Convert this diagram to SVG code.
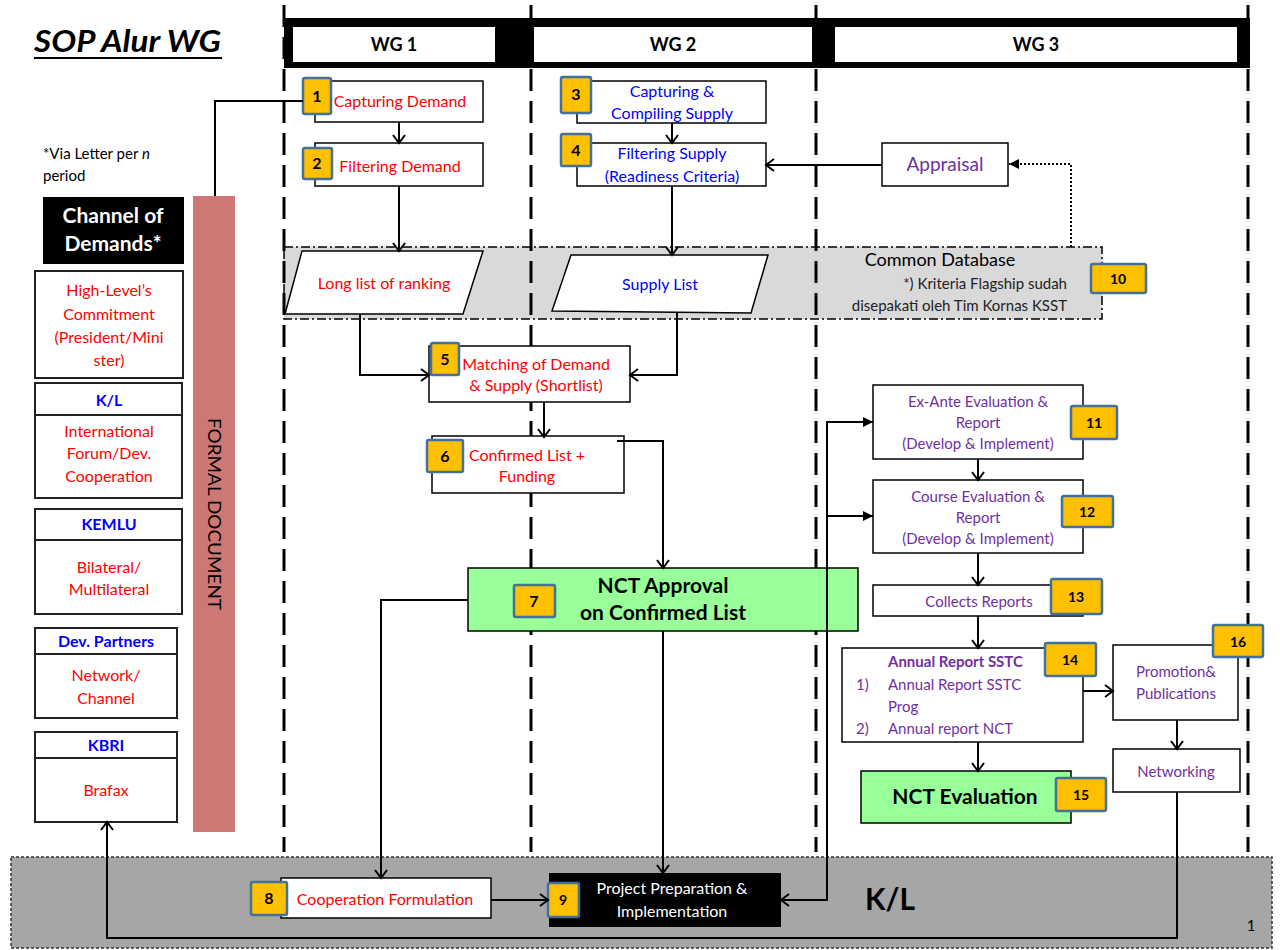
<svg xmlns="http://www.w3.org/2000/svg" width="1280" height="950" viewBox="0 0 1280 950">
<defs>
<style>
text{font-family:Lato,"Open Sans","Liberation Sans",sans-serif}
.box{fill:#fff;stroke:#000;stroke-width:1.5}
.lbox{fill:#fff;stroke:#222;stroke-width:2}
.badge{fill:#FFC000;stroke:#41719C;stroke-width:2.5}
.bn{font-size:16px;font-weight:bold;fill:#000;text-anchor:middle}
.bn2{font-size:14px;font-weight:bold;fill:#000;text-anchor:middle}
.red{fill:#FF0000;font-size:16px;text-anchor:middle}
.blue{fill:#0000FF;font-size:16px;text-anchor:middle}
.pur{fill:#7030A0;font-size:15px;text-anchor:middle}
.bl{fill:#0000FF;font-size:16px;font-weight:bold;text-anchor:middle}
.lane{stroke:#000;stroke-width:3;stroke-dasharray:22 10;fill:none}
.c{stroke:#000;stroke-width:2;fill:none}
.green{fill:#99FF99;stroke:#000;stroke-width:1.5}
</style>
<marker id="open" markerUnits="userSpaceOnUse" markerWidth="16" markerHeight="16" refX="11" refY="8" orient="auto">
<path d="M3,2 L11,8 L3,14" fill="none" stroke="#000" stroke-width="2"/>
</marker>
<marker id="fill" markerUnits="userSpaceOnUse" markerWidth="12" markerHeight="12" refX="10" refY="6" orient="auto">
<path d="M0,1 L10,6 L0,11 z" fill="#000"/>
</marker>
</defs>
<rect width="1280" height="950" fill="#fff"/>

<!-- background bands -->
<g id="common-database-band">
<rect x="284" y="247" width="818" height="72" fill="#D9D9D9" stroke="#000" stroke-width="1.5" stroke-dasharray="9 3 2 3"/>
</g>
<g id="kl-band">
<rect x="11" y="857" width="1261" height="91" fill="#A6A6A6" stroke="#333" stroke-width="1.5" stroke-dasharray="3 2"/>
<text x="890" y="910" font-size="30" font-weight="bold" text-anchor="middle" fill="#000">K/L</text>
<text x="1251" y="931" font-size="15" text-anchor="middle" fill="#000">1</text>
</g>

<!-- swimlanes -->
<g id="lanes">
<line class="lane" x1="284" y1="5" x2="284" y2="852"/>
<line class="lane" x1="531" y1="5" x2="531" y2="852"/>
<line class="lane" x1="816" y1="5" x2="816" y2="852"/>
<line class="lane" x1="1248" y1="5" x2="1248" y2="852"/>
</g>

<g id="header">
<rect x="284" y="18" width="966" height="50" fill="#000"/>
<rect x="293" y="27" width="202" height="35" fill="#fff"/>
<rect x="534" y="27" width="278" height="35" fill="#fff"/>
<rect x="835" y="27" width="402" height="35" fill="#fff"/>
<text x="394" y="51" font-size="18" font-weight="bold" text-anchor="middle">WG 1</text>
<text x="673" y="51" font-size="18" font-weight="bold" text-anchor="middle">WG 2</text>
<text x="1036" y="51" font-size="18" font-weight="bold" text-anchor="middle">WG 3</text>
</g>

<g id="title">
<text x="34" y="52" font-size="30" font-weight="bold" font-style="italic" textLength="187" lengthAdjust="spacingAndGlyphs">SOP Alur WG</text>
<line x1="34" y1="58" x2="222" y2="58" stroke="#000" stroke-width="2"/>
<text x="43" y="159" font-size="15">*Via Letter per <tspan font-style="italic">n</tspan></text>
<text x="43" y="181" font-size="15">period</text>
</g>

<!-- left column -->
<g id="channel-of-demands">
<rect x="43" y="197" width="141" height="67" fill="#000"/>
<text x="113" y="223" font-size="21" font-weight="bold" fill="#fff" text-anchor="middle">Channel of</text>
<text x="113" y="251" font-size="21" font-weight="bold" fill="#fff" text-anchor="middle">Demands*</text>
</g>
<g id="high-level">
<rect class="lbox" x="35" y="271" width="148" height="107"/>
<text class="red" x="109" y="296">High-Level’s</text>
<text class="red" x="109" y="320">Commitment</text>
<text class="red" x="109" y="343">(President/Mini</text>
<text class="red" x="109" y="366">ster)</text>
</g>
<g id="kl-channel">
<rect class="lbox" x="35" y="383" width="147" height="115"/>
<line x1="35" y1="415" x2="182" y2="415" stroke="#222" stroke-width="2"/>
<text class="bl" x="109" y="406">K/L</text>
<text class="red" x="109" y="437">International</text>
<text class="red" x="109" y="459">Forum/Dev.</text>
<text class="red" x="109" y="482">Cooperation</text>
</g>
<g id="kemlu">
<rect class="lbox" x="35" y="509" width="147" height="105"/>
<line x1="35" y1="540" x2="182" y2="540" stroke="#222" stroke-width="2"/>
<text class="bl" x="109" y="530">KEMLU</text>
<text class="red" x="109" y="573">Bilateral/</text>
<text class="red" x="109" y="595">Multilateral</text>
</g>
<g id="dev-partners">
<rect class="lbox" x="35" y="628" width="142" height="90"/>
<line x1="35" y1="654" x2="177" y2="654" stroke="#222" stroke-width="2"/>
<text class="bl" x="106" y="647">Dev. Partners</text>
<text class="red" x="106" y="681">Network/</text>
<text class="red" x="106" y="704">Channel</text>
</g>
<g id="kbri">
<rect class="lbox" x="35" y="732" width="142" height="90"/>
<line x1="35" y1="758" x2="177" y2="758" stroke="#222" stroke-width="2"/>
<text class="bl" x="106" y="751">KBRI</text>
<text class="red" x="106" y="796">Brafax</text>
</g>
<g id="formal-document">
<rect x="193" y="196" width="42" height="636" fill="#CD7874"/>
<text x="0" y="0" font-size="18" fill="#000" text-anchor="middle" transform="translate(208,514) rotate(90)" textLength="192" lengthAdjust="spacingAndGlyphs">FORMAL DOCUMENT</text>
</g>

<!-- WG1 / WG2 nodes -->
<g id="n1">
<rect class="box" x="315" y="81" width="168" height="41"/>
<text class="red" x="400" y="107">Capturing Demand</text>
<rect class="badge" x="303" y="78" width="28" height="36" rx="2"/>
<text class="bn" x="317" y="102">1</text>
</g>
<g id="n2">
<rect class="box" x="315" y="143" width="168" height="43"/>
<text class="red" x="400" y="172">Filtering Demand</text>
<rect class="badge" x="303" y="148" width="29" height="31" rx="2"/>
<text class="bn" x="317" y="169">2</text>
</g>
<g id="n3">
<rect class="box" x="577" y="81" width="189" height="42"/>
<text class="blue" x="672" y="97">Capturing &amp;</text>
<text class="blue" x="672" y="119">Compiling Supply</text>
<rect class="badge" x="561" y="77" width="30" height="36" rx="2"/>
<text class="bn" x="576" y="100">3</text>
</g>
<g id="n4">
<rect class="box" x="577" y="143" width="189" height="43"/>
<text class="blue" x="672" y="159">Filtering Supply</text>
<text class="blue" x="672" y="182">(Readiness Criteria)</text>
<rect class="badge" x="561" y="134" width="30" height="32" rx="2"/>
<text class="bn" x="576" y="156">4</text>
</g>
<g id="appraisal">
<rect class="box" x="882" y="143" width="126" height="43"/>
<text x="945" y="171" font-size="19" fill="#7030A0" text-anchor="middle">Appraisal</text>
</g>
<g id="n10-common-database">
<text x="940" y="266" font-size="18" fill="#000" text-anchor="middle">Common Database</text>
<text x="1067" y="289" font-size="15" fill="#222" text-anchor="end">*) Kriteria Flagship sudah</text>
<text x="1067" y="311" font-size="15" fill="#222" text-anchor="end">disepakati oleh Tim Kornas KSST</text>
<rect class="badge" x="1091" y="264" width="55" height="29" rx="2"/>
<text class="bn2" x="1118" y="284">10</text>
</g>
<g id="long-list">
<polygon points="302,251 483,251 463,314 285,314" fill="#fff" stroke="#000" stroke-width="1.5"/>
<text class="red" x="384" y="289">Long list of ranking</text>
</g>
<g id="supply-list">
<polygon points="571,255 768,255 751,313 552,311" fill="#fff" stroke="#000" stroke-width="1.5"/>
<text class="blue" x="660" y="290">Supply List</text>
</g>
<g id="n5">
<rect class="box" x="429" y="346" width="201" height="56"/>
<text class="red" x="536" y="370">Matching of Demand</text>
<text class="red" x="536" y="391">&amp; Supply (Shortlist)</text>
<rect class="badge" x="431" y="343" width="28" height="32" rx="2"/>
<text class="bn" x="445" y="365">5</text>
</g>
<g id="n6">
<rect class="box" x="432" y="436" width="192" height="57"/>
<text class="red" x="527" y="461">Confirmed List +</text>
<text class="red" x="527" y="482">Funding</text>
<rect class="badge" x="427" y="440" width="36" height="32" rx="2"/>
<text class="bn" x="445" y="462">6</text>
</g>
<g id="n7">
<rect class="green" x="468" y="568" width="390" height="63"/>
<text x="663" y="593" font-size="21" font-weight="bold" text-anchor="middle">NCT Approval</text>
<text x="663" y="620" font-size="21" font-weight="bold" text-anchor="middle">on Confirmed List</text>
<rect class="badge" x="514" y="585" width="41" height="32" rx="2"/>
<text class="bn" x="534" y="607">7</text>
</g>

<!-- WG3 nodes -->
<g id="n11">
<rect class="box" x="873" y="385" width="210" height="74"/>
<text class="pur" x="978" y="407">Ex-Ante Evaluation &amp;</text>
<text class="pur" x="978" y="428">Report</text>
<text class="pur" x="978" y="449">(Develop &amp; Implement)</text>
<rect class="badge" x="1071" y="406" width="46" height="33" rx="2"/>
<text class="bn2" x="1094" y="428">11</text>
</g>
<g id="n12">
<rect class="box" x="873" y="480" width="210" height="73"/>
<text class="pur" x="978" y="502">Course Evaluation &amp;</text>
<text class="pur" x="978" y="523">Report</text>
<text class="pur" x="978" y="544">(Develop &amp; Implement)</text>
<rect class="badge" x="1062" y="496" width="51" height="31" rx="2"/>
<text class="bn2" x="1087" y="517">12</text>
</g>
<g id="n13">
<rect class="box" x="873" y="585" width="210" height="31"/>
<text class="pur" x="979" y="607">Collects Reports</text>
<rect class="badge" x="1051" y="579" width="51" height="35" rx="2"/>
<text class="bn2" x="1076" y="602">13</text>
</g>
<g id="n14">
<rect class="box" x="842" y="648" width="241" height="94"/>
<text x="888" y="667" font-size="15" font-weight="bold" fill="#7030A0">Annual Report SSTC</text>
<text x="856" y="690" font-size="15" fill="#7030A0">1)</text>
<text x="888" y="690" font-size="15" fill="#7030A0">Annual Report SSTC</text>
<text x="888" y="712" font-size="15" fill="#7030A0">Prog</text>
<text x="856" y="734" font-size="15" fill="#7030A0">2)</text>
<text x="888" y="734" font-size="15" fill="#7030A0">Annual report NCT</text>
<rect class="badge" x="1045" y="643" width="51" height="33" rx="2"/>
<text class="bn2" x="1070" y="665">14</text>
</g>
<g id="n15">
<rect class="green" x="861" y="771" width="210" height="52"/>
<text x="965" y="804" font-size="21" font-weight="bold" text-anchor="middle">NCT Evaluation</text>
<rect class="badge" x="1056" y="778" width="50" height="33" rx="2"/>
<text class="bn2" x="1081" y="800">15</text>
</g>
<g id="n16">
<rect class="box" x="1113" y="645" width="125" height="75"/>
<text class="pur" x="1176" y="677">Promotion&amp;</text>
<text class="pur" x="1176" y="699">Publications</text>
<rect class="badge" x="1213" y="625" width="50" height="32" rx="2"/>
<text class="bn2" x="1238" y="647">16</text>
</g>
<g id="networking">
<rect class="box" x="1113" y="749" width="127" height="43"/>
<text class="pur" x="1176" y="777">Networking</text>
</g>

<!-- K/L band nodes -->
<g id="n8">
<rect class="box" x="281" y="878" width="210" height="40"/>
<text class="red" x="385" y="905" font-size="15">Cooperation Formulation</text>
<rect class="badge" x="251" y="882" width="36" height="33" rx="2"/>
<text class="bn" x="269" y="904">8</text>
</g>
<g id="n9">
<rect x="549" y="873" width="232" height="54" fill="#000"/>
<text x="672" y="894" font-size="16" fill="#fff" text-anchor="middle">Project Preparation &amp;</text>
<text x="672" y="917" font-size="16" fill="#fff" text-anchor="middle">Implementation</text>
<rect class="badge" x="548" y="883" width="31" height="34" rx="2"/>
<text class="bn2" x="563" y="905">9</text>
</g>

<!-- connectors -->
<g id="connectors">
<polyline class="c" points="215,196 215,101 303,101"/>
<line class="c" x1="399" y1="122" x2="399" y2="143" marker-end="url(#open)"/>
<line class="c" x1="399" y1="186" x2="399" y2="251" marker-end="url(#open)"/>
<line class="c" x1="672" y1="123" x2="672" y2="143" marker-end="url(#open)"/>
<line class="c" x1="672" y1="186" x2="672" y2="255" marker-end="url(#open)"/>
<line class="c" x1="882" y1="165" x2="766" y2="165" marker-end="url(#open)"/>
<polyline points="1071,247 1071,164 1009,164" fill="none" stroke="#000" stroke-width="2" stroke-dasharray="2 2" marker-end="url(#fill)"/>
<polyline class="c" points="360,314 360,375 429,375" marker-end="url(#open)"/>
<polyline class="c" points="677,313 677,375 630,375" marker-end="url(#open)"/>
<line class="c" x1="544" y1="402" x2="544" y2="437" marker-end="url(#open)"/>
<polyline class="c" points="617,441 663,441 663,568" marker-end="url(#open)"/>
<polyline class="c" points="468,600 381,600 381,878" marker-end="url(#open)"/>
<line class="c" x1="663" y1="631" x2="663" y2="873" marker-end="url(#open)"/>
<line class="c" x1="491" y1="900" x2="548" y2="900" marker-end="url(#open)"/>
<polyline class="c" points="873,422 827,422 827,900 781,900" marker-end="url(#open)"/>
<line class="c" x1="827" y1="422" x2="873" y2="422" marker-end="url(#fill)"/>
<line class="c" x1="827" y1="516" x2="873" y2="516" marker-end="url(#fill)"/>
<line class="c" x1="978" y1="459" x2="978" y2="480" marker-end="url(#open)"/>
<line class="c" x1="978" y1="553" x2="978" y2="585" marker-end="url(#open)"/>
<line class="c" x1="978" y1="616" x2="978" y2="648" marker-end="url(#open)"/>
<line class="c" x1="978" y1="742" x2="978" y2="771" marker-end="url(#open)"/>
<line class="c" x1="1083" y1="691" x2="1113" y2="691" marker-end="url(#open)"/>
<line class="c" x1="1177" y1="720" x2="1177" y2="749" marker-end="url(#open)"/>
<polyline class="c" points="1177,792 1177,938 107,938 107,822" marker-end="url(#open)"/>
</g>
</svg>
